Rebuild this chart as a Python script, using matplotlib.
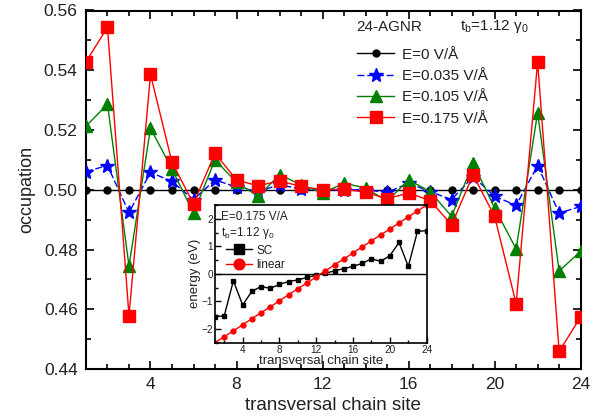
import matplotlib
matplotlib.use("Agg")
import matplotlib.pyplot as plt
from matplotlib.ticker import MultipleLocator

plt.rcParams['font.family'] = ['Liberation Sans', 'DejaVu Sans']
plt.rcParams['mathtext.fontset'] = 'custom'
plt.rcParams['mathtext.rm'] = 'Liberation Sans'
plt.rcParams['mathtext.it'] = 'Liberation Sans'

# occupation along the transversal chain
sites = list(range(1, 25))
occ_E0 = [0.500] * 24
occ_E035 = [0.5061, 0.5081, 0.4924, 0.5058, 0.5028, 0.4967, 0.5033, 0.5009,
            0.4994, 0.5017, 0.5002, 0.4997, 0.5000, 0.5000, 0.4991, 0.5022,
            0.4994, 0.4967, 0.5044, 0.4978, 0.4948, 0.5081, 0.4922, 0.4944]
occ_E105 = [0.5213, 0.5286, 0.4745, 0.5206, 0.5069, 0.4922, 0.5100, 0.5025,
            0.4978, 0.5050, 0.5017, 0.4989, 0.5022, 0.5006, 0.4962, 0.5033,
            0.4994, 0.4911, 0.5089, 0.4939, 0.4802, 0.5258, 0.4728, 0.4794]
occ_E175 = [0.5428, 0.5544, 0.4578, 0.5386, 0.5092, 0.4953, 0.5122, 0.5033,
            0.5013, 0.5030, 0.5011, 0.5000, 0.5002, 0.4992, 0.4970, 0.4989,
            0.4964, 0.4883, 0.5050, 0.4911, 0.4619, 0.5428, 0.4459, 0.4574]

# inset: on-site energy
energy_sc = [-1.55, -1.53, -0.25, -1.13, -0.64, -0.46, -0.53, -0.38,
             -0.28, -0.22, -0.13, -0.05, 0.02, 0.11, 0.19, 0.27,
             0.38, 0.55, 0.45, 0.66, 1.14, 0.27, 1.54, 1.57]
energy_linear = [-2.50, -2.28, -2.07, -1.85, -1.63, -1.41, -1.20, -0.98,
                 -0.76, -0.54, -0.33, -0.11, 0.11, 0.33, 0.54, 0.76,
                 0.98, 1.20, 1.41, 1.63, 1.85, 2.07, 2.28, 2.50]

txt = '#222222'
fig = plt.figure(figsize=(6.08, 4.2), dpi=100)
ax = fig.add_axes([0.1414, 0.1214, 0.8136, 0.8536])

ax.plot(sites, occ_E0, '-', color='black', lw=1, marker='o', ms=5,
        label='E=0 V/Å', zorder=3)
ax.plot(sites, occ_E035, '--', color='blue', lw=1, marker='*', ms=10,
        dashes=(5, 2), label='E=0.035 V/Å', zorder=4)
ax.plot(sites, occ_E105, '-', color='green', lw=1, marker='^', ms=8.5,
        label='E=0.105 V/Å', zorder=5)
ax.plot(sites, occ_E175, '-', color='red', lw=1, marker='s', ms=8,
        label='E=0.175 V/Å', zorder=6)

ax.set_xlim(1, 24)
ax.set_ylim(0.44, 0.56)
ax.xaxis.set_major_locator(MultipleLocator(4))
ax.xaxis.set_minor_locator(MultipleLocator(1))
ax.yaxis.set_major_locator(MultipleLocator(0.02))
ax.yaxis.set_minor_locator(MultipleLocator(0.01))
ax.yaxis.set_major_formatter(plt.FormatStrFormatter('%.2f'))
ax.tick_params(which='both', direction='in', top=True, right=True,
               labelsize=12.5, colors='black', labelcolor=txt, width=1.2)
ax.tick_params(which='major', length=6, pad=6)
ax.tick_params(which='minor', length=3.5)
for s in ax.spines.values():
    s.set_linewidth(1.5)
ax.set_xlabel('transversal chain site', fontsize=13.5, color=txt, labelpad=3)
ax.set_ylabel('occupation', fontsize=13, color=txt, labelpad=6)

ax.text(0.547, 0.955, '24-AGNR', transform=ax.transAxes, fontsize=11,
        color=txt, va='center')
ax.text(0.756, 0.955, r'$\mathregular{t_b}$=1.12 $\mathregular{\gamma_0}$',
        transform=ax.transAxes, fontsize=11, color=txt, va='center')
ax.legend(loc='upper left', bbox_to_anchor=(0.521, 0.935), frameon=False,
          fontsize=11, handlelength=2.4, handletextpad=0.5,
          labelspacing=0.48, labelcolor=txt)

# inset
ins = fig.add_axes([0.3536, 0.184, 0.3482, 0.328])
ins.axhline(0, color='black', lw=1)
ins.plot(sites, energy_sc, '-', color='black', lw=1, marker='s', ms=3.5,
         label='SC')
ins.plot(sites, energy_linear, '-', color='red', lw=1, marker='o', ms=3.5,
         label='linear')
ins.set_xlim(1, 24)
ins.set_ylim(-2.5, 2.5)
ins.xaxis.set_major_locator(MultipleLocator(4))
ins.xaxis.set_minor_locator(MultipleLocator(2))
ins.yaxis.set_major_locator(MultipleLocator(1))
ins.yaxis.set_minor_locator(MultipleLocator(0.5))
ins.tick_params(which='both', direction='in', labelsize=7.2, labelcolor=txt,
                width=1)
ins.tick_params(which='major', length=4, pad=1.5)
ins.tick_params(which='minor', length=2)
for s in ins.spines.values():
    s.set_linewidth(1.2)
ins.set_xlabel('transversal chain site', fontsize=9.5, color=txt, labelpad=0)
ins.set_ylabel('energy (eV)', fontsize=9.5, color=txt, labelpad=0)
ins.text(0.03, 0.91, 'E=0.175 V/A', transform=ins.transAxes, fontsize=8.5,
         color=txt, va='center')
ins.text(0.03, 0.80, r'$\mathregular{t_b}$=1.12 $\mathregular{\gamma_0}$',
         transform=ins.transAxes, fontsize=8.5, color=txt, va='center')
ins.legend(loc='upper left', bbox_to_anchor=(0.0, 0.79), frameon=False,
           fontsize=8.5, handlelength=2.2, handletextpad=0.4,
           labelspacing=0.2, markerscale=2.2, labelcolor=txt)

fig.savefig('out.png', dpi=100)
